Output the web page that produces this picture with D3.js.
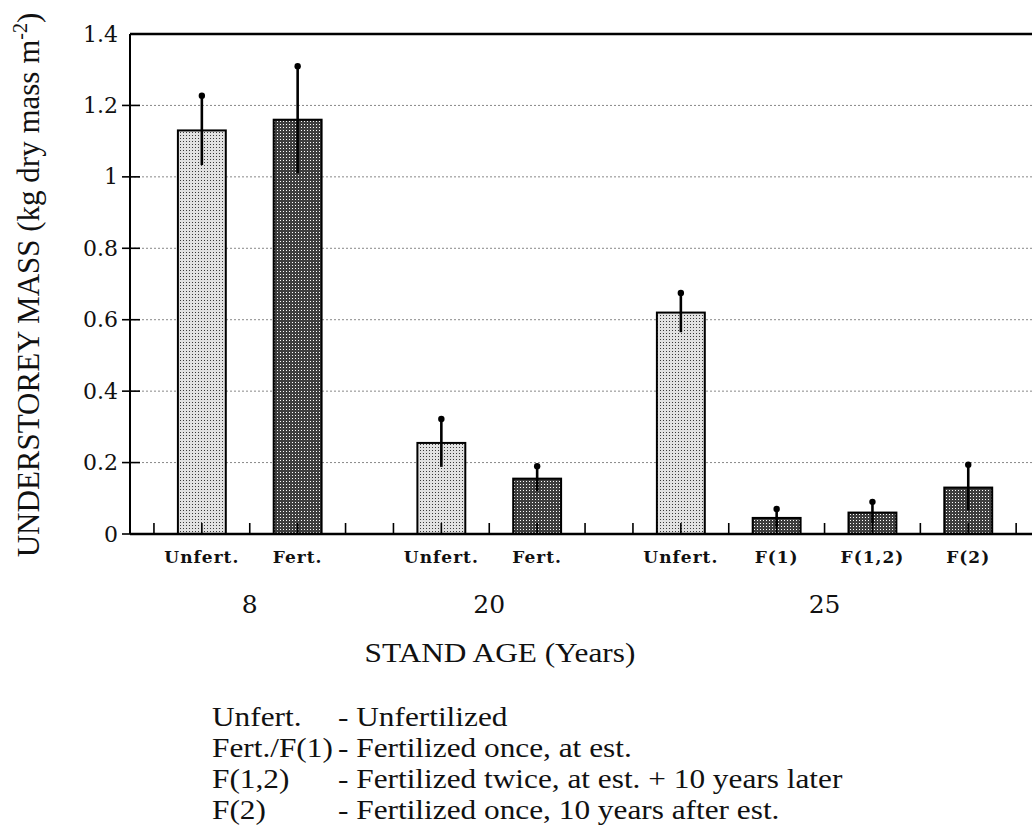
<!DOCTYPE html>
<html>
<head>
<meta charset="utf-8">
<script src="https://cdn.jsdelivr.net/npm/d3@7"></script>
<style>
  html, body { margin: 0; padding: 0; background: #fff; }
  svg { display: block; }
</style>
</head>
<body>
<svg id="chart" width="1032" height="832"></svg>
<script>
// Understorey mass by stand age and fertilization treatment
const ages       = ["8", "8", "20", "20", "25", "25", "25", "25"];
const treatments = ["Unfert.", "Fert.", "Unfert.", "Fert.", "Unfert.", "F(1)", "F(1,2)", "F(2)"];
const mass       = [1.13, 1.16, 0.255, 0.155, 0.62, 0.045, 0.06, 0.13];
const stdErr     = [0.097, 0.15, 0.067, 0.035, 0.055, 0.025, 0.03, 0.064];
const fertilized = [false, true, false, true, false, true, true, true];
const yTicks     = [0, 0.2, 0.4, 0.6, 0.8, 1, 1.2, 1.4];
const yTickText  = ["0", "0.2", "0.4", "0.6", "0.8", "1", "1.2", "1.4"];
const legendKeys = ["Unfert.", "Fert./F(1)", "F(1,2)", "F(2)"];
const legendText = ["- Unfertilized", "- Fertilized once, at est.",
                    "- Fertilized twice, at est. + 10 years later",
                    "- Fertilized once, 10 years after est."];

const svg = d3.select("#chart");
const plotLeft = 130, plotTop = 34, plotBottom = 534;
const wide = 1.16; // horizontal stretch of the wide serif captions

// slot layout: one blank slot between bars, two between age groups
const slotOf = [];
let s = 1;
ages.forEach((a, i) => {
  if (i > 0) s += (a === ages[i - 1]) ? 2 : 3;
  slotOf.push(s);
});
const nSlots = s + 2;
const slotIds = d3.range(nSlots);

const x = d3.scaleBand().domain(slotIds).range([plotLeft, plotLeft + nSlots * 47.9]).padding(0);
const y = d3.scaleLinear().domain([0, 1.4]).range([plotBottom, plotTop]);
const plotRight = x.range()[1];
const cx = i => x(slotOf[i]) + x.bandwidth() / 2;

// fill patterns
const defs = svg.append("defs");
const pLight = defs.append("pattern").attr("id", "pLight")
  .attr("patternUnits", "userSpaceOnUse").attr("width", 3).attr("height", 3);
pLight.append("rect").attr("width", 3).attr("height", 3).attr("fill", "#e2e2e2");
pLight.append("rect").attr("width", 1).attr("height", 1).attr("fill", "#3a3a3a");
const pDark = defs.append("pattern").attr("id", "pDark")
  .attr("patternUnits", "userSpaceOnUse").attr("width", 3).attr("height", 3);
pDark.append("rect").attr("width", 3).attr("height", 3).attr("fill", "#3e3e3e");
pDark.append("rect").attr("x", 1).attr("y", 1).attr("width", 1).attr("height", 1).attr("fill", "#fff");

// dotted gridlines
svg.append("g").selectAll("line")
  .data(yTicks.filter(v => v > 0 && v < 1.4))
  .join("line")
  .attr("x1", plotLeft).attr("x2", plotRight)
  .attr("y1", d => y(d)).attr("y2", d => y(d))
  .attr("stroke", "#888").attr("stroke-width", 1)
  .attr("stroke-dasharray", "2,2");

// y axis
const yAxis = d3.axisLeft(y).tickValues(yTicks)
  .tickFormat((d, i) => yTickText[i]).tickSize(0).tickPadding(12);
const gy = svg.append("g").attr("transform", `translate(${plotLeft},0)`).call(yAxis);
gy.select(".domain").remove();
gy.selectAll("text").attr("font-family", "DejaVu Serif").attr("font-size", 22).attr("fill", "#111");
svg.append("g").selectAll("line").data(yTicks.slice(0, -1)).join("line")
  .attr("x1", plotLeft - 8).attr("x2", plotLeft + 10)
  .attr("y1", d => y(d)).attr("y2", d => y(d))
  .attr("stroke", "#000").attr("stroke-width", 1.6);

// bars
svg.append("g").selectAll("rect").data(mass).join("rect")
  .attr("x", (d, i) => x(slotOf[i]))
  .attr("width", x.bandwidth())
  .attr("y", d => y(d))
  .attr("height", d => y(0) - y(d))
  .attr("fill", (d, i) => fertilized[i] ? "url(#pDark)" : "url(#pLight)")
  .attr("stroke", "#000").attr("stroke-width", 2);

// frame and x axis
svg.append("line").attr("x1", plotLeft).attr("x2", plotRight).attr("y1", y(1.4)).attr("y2", y(1.4))
  .attr("stroke", "#000").attr("stroke-width", 2.4);
svg.append("line").attr("x1", plotLeft).attr("x2", plotLeft).attr("y1", y(1.4)).attr("y2", y(0))
  .attr("stroke", "#000").attr("stroke-width", 2);
svg.append("line").attr("x1", plotLeft).attr("x2", plotRight).attr("y1", y(0)).attr("y2", y(0))
  .attr("stroke", "#000").attr("stroke-width", 2.4);

// x slot ticks
svg.append("g").selectAll("line").data(slotIds).join("line")
  .attr("x1", d => x(d) + x.bandwidth() / 2).attr("x2", d => x(d) + x.bandwidth() / 2)
  .attr("y1", y(0)).attr("y2", y(0) - 11)
  .attr("stroke", "#000").attr("stroke-width", 1.6);

// error bars
const err = svg.append("g");
err.selectAll("line").data(mass).join("line")
  .attr("x1", (d, i) => cx(i)).attr("x2", (d, i) => cx(i))
  .attr("y1", (d, i) => y(Math.max(0, d - stdErr[i])))
  .attr("y2", (d, i) => y(d + stdErr[i]))
  .attr("stroke", "#000").attr("stroke-width", 2.6);
err.selectAll("circle").data(mass).join("circle")
  .attr("cx", (d, i) => cx(i))
  .attr("cy", (d, i) => y(d + stdErr[i]))
  .attr("r", 3.2).attr("fill", "#000");

// treatment labels
svg.append("g").selectAll("text").data(treatments).join("text")
  .attr("x", (d, i) => cx(i))
  .attr("y", 563)
  .attr("text-anchor", "middle")
  .attr("font-family", "DejaVu Serif").attr("font-weight", "bold").attr("font-size", 17)
  .attr("letter-spacing", 1)
  .attr("fill", "#111")
  .text(d => d);

// stand age labels centred under each group
const groups = Array.from(new Set(ages));
svg.append("g").selectAll("text").data(groups).join("text")
  .attr("x", g => d3.mean(ages.map((a, i) => a === g ? cx(i) : undefined)))
  .attr("y", 613)
  .attr("text-anchor", "middle")
  .attr("font-family", "DejaVu Serif").attr("font-size", 25).attr("fill", "#111")
  .text(g => g);

// axis titles
svg.append("text").attr("transform", `translate(500,662) scale(${wide},1)`)
  .attr("text-anchor", "middle")
  .attr("font-family", "Liberation Serif").attr("font-size", 27).attr("fill", "#111")
  .text("STAND AGE (Years)");

const yTitle = svg.append("text")
  .attr("transform", "translate(39,285) rotate(-90)")
  .attr("text-anchor", "middle")
  .attr("font-family", "Liberation Serif").attr("font-size", 31).attr("fill", "#111");
yTitle.append("tspan").text("UNDERSTOREY MASS (kg dry mass m");
yTitle.append("tspan").attr("font-size", 20).attr("dy", -12).text("-2");
yTitle.append("tspan").attr("dy", 12).text(")");

// treatment key
const key = svg.append("g").attr("font-family", "Liberation Serif").attr("font-size", 27).attr("fill", "#111");
const keyY = d3.scalePoint().domain(d3.range(legendKeys.length)).range([726, 819]);
key.selectAll("text.k").data(legendKeys).join("text").attr("class", "k")
  .attr("transform", (d, i) => `translate(212,${keyY(i)}) scale(${wide},1)`).text(d => d);
key.selectAll("text.v").data(legendText).join("text").attr("class", "v")
  .attr("transform", (d, i) => `translate(338,${keyY(i)}) scale(${wide},1)`).text(d => d);
</script>
</body>
</html>
